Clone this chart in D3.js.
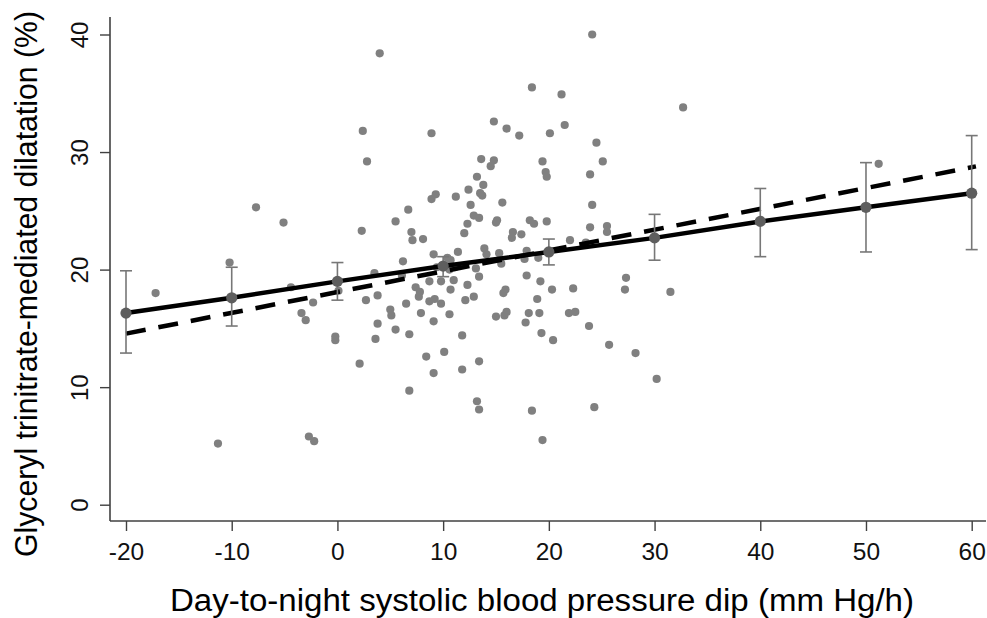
<!DOCTYPE html>
<html>
<head>
<meta charset="utf-8">
<script src="https://cdn.jsdelivr.net/npm/d3@7"></script>
<style>
  body { margin:0; background:#fff; }
  svg text { font-family: "Liberation Sans", Arial, sans-serif; }
</style>
</head>
<body>
<div id="chart"></div>
<script>
// scatter: day-to-night SBP dip (x) vs GTN-mediated dilatation (y)
var dipX = [-17.2,-11.3,-10.2,-7.7,-5.1,-4.4,-3.4,-3.0,-2.3,-2.7,-2.2,
  -0.2,-0.2,0.1,2.1,2.3,2.4,2.8,2.7,3.5,3.8,3.8,3.6,4.0,5.0,5.1,5.5,5.5,6.2,6.1,
  6.5,6.7,6.8,6.8,7.0,7.1,7.4,7.8,7.7,7.9,8.1,8.4,8.7,8.7,8.9,8.9,9.1,9.1,9.1,9.2,
  9.3,9.4,9.8,9.8,10.1,10.4,10.7,10.6,10.6,10.7,11.0,11.1,11.2,11.4,11.8,11.8,12.0,12.1,12.3,12.3,
  12.4,12.6,12.9,13.4,12.9,13.1,13.2,13.2,13.4,13.4,13.4,13.6,13.5,13.7,13.8,13.9,14.1,14.5,14.8,14.8,
  15.0,15.0,15.1,15.3,15.5,15.6,15.8,16.0,15.9,15.7,16.0,16.5,16.6,17.2,17.4,17.7,17.9,17.9,17.8,18.1,
  18.2,18.6,18.4,18.4,18.9,19.0,19.1,19.2,19.3,19.4,19.4,19.7,19.8,19.8,20.1,20.3,20.4,21.2,21.5,21.9,
  22.5,22.0,22.3,23.5,23.8,23.9,23.9,24.1,24.1,24.3,24.5,25.1,25.5,25.5,25.7,27.3,27.2,28.2,30.2,31.5,
  32.7,51.2]
var gtnY = [18.0,5.2,20.6,25.3,24.0,18.5,16.3,15.7,17.2,5.8,5.4,
  14.3,14.0,18.2,12.0,23.3,31.8,29.2,17.4,19.7,17.8,15.4,14.1,38.4,16.6,16.1,24.1,14.9,20.7,19.5,
  17.1,25.1,14.5,9.7,23.2,22.5,18.5,18.1,17.7,16.3,22.6,12.6,19.0,17.3,31.6,26.0,21.3,15.6,11.2,17.5,
  26.4,20.2,19.0,17.1,13.0,21.0,20.8,20.0,16.2,18.3,19.1,20.2,26.2,21.5,14.4,11.5,23.1,17.4,23.9,18.7,
  26.8,25.5,24.6,24.4,17.7,20.1,27.9,8.8,8.1,19.4,12.2,29.4,26.5,26.3,27.2,21.8,21.3,28.8,29.3,32.6,
  16.0,24.0,24.2,21.4,20.5,25.7,16.1,16.4,18.3,18.0,32.0,22.7,23.2,31.4,23.0,20.9,21.6,19.5,15.5,16.3,
  24.2,23.9,35.5,8.0,17.5,21.0,16.3,19.0,14.6,5.5,29.2,28.3,27.9,24.1,31.6,18.3,14.0,34.9,32.3,16.3,
  16.4,22.5,18.4,22.3,15.2,28.1,23.6,40.0,25.5,8.3,30.8,29.2,23.7,23.2,13.6,19.3,18.3,12.9,10.7,18.1,
  33.8,29.0]

// predicted means with 95% CI
var dipLevels = [-20,-10,0,10,20,30,40,50,60]
var meanY = [16.3,17.6,19.0,20.3,21.5,22.7,24.1,25.3,26.5]
var ciLow = [12.9,15.2,17.4,19.4,20.4,20.8,21.1,21.5,21.7]
var ciHigh = [19.9,20.2,20.6,21.1,22.6,24.7,26.9,29.1,31.4]

// simple linear fit (dashed)
var fitX = [-20,60.4]
var fitY = [14.55,28.78]

var xTicks = [-20,-10,0,10,20,30,40,50,60]
var yTicks = [0,10,20,30,40]

var W = 987, H = 618
var svg = d3.select('#chart').append('svg').attr('width', W).attr('height', H)

var x = d3.scaleLinear().domain([-20,60]).range([126,971.7])
var y = d3.scaleLinear().domain([0,40]).range([504.7,34.5])

var axisCol = '#404040'
var axisX = 110, axisY = 521

// axes lines
svg.append('line').attr('x1',axisX).attr('x2',axisX).attr('y1',17).attr('y2',axisY)
  .attr('stroke',axisCol).attr('stroke-width',1.6)
svg.append('line').attr('x1',axisX).attr('x2',986).attr('y1',axisY).attr('y2',axisY)
  .attr('stroke',axisCol).attr('stroke-width',1.6)

var gx = svg.append('g').attr('transform','translate(0,'+axisY+')')
  .call(d3.axisBottom(x).tickValues(xTicks).tickSize(10).tickFormat(d3.format('d')))
gx.select('.domain').remove()
gx.selectAll('.tick line').attr('stroke',axisCol).attr('stroke-width',1.4)
gx.selectAll('.tick text').attr('y',39).attr('dy',0).attr('fill','#111')
  .style('font-size','24.5px').text(d=> d<0 ? '-'+Math.abs(d) : d)

var gy = svg.append('g').attr('transform','translate('+axisX+',0)')
  .call(d3.axisLeft(y).tickValues(yTicks).tickSize(10))
gy.select('.domain').remove()
gy.selectAll('.tick line').attr('stroke',axisCol).attr('stroke-width',1.4)
gy.selectAll('.tick text').attr('x',0).attr('dy',0).attr('fill','#111')
  .attr('text-anchor','middle').attr('transform','translate(-22,0) rotate(-90)')
  .style('font-size','24px')

// scatter
var pts = dipX.map((d,i)=> ({x:d, y:gtnY[i]}))
svg.append('g').selectAll('circle').data(pts).enter().append('circle')
  .attr('cx', d=> x(d.x)).attr('cy', d=> y(d.y)).attr('r',4.1)
  .attr('fill','#808080')

// dashed linear fit
svg.append('path')
  .datum(fitX.map((d,i)=> [d, fitY[i]]))
  .attr('d', d3.line().x(d=> x(d[0])).y(d=> y(d[1])))
  .attr('fill','none').attr('stroke','#000').attr('stroke-width',4.5)
  .attr('stroke-dasharray','20,13')

// solid line through predicted means
var means = dipLevels.map((d,i)=> ({x:d, m:meanY[i], lo:ciLow[i], hi:ciHigh[i]}))
svg.append('path')
  .datum(means)
  .attr('d', d3.line().x(d=> x(d.x)).y(d=> y(d.m)))
  .attr('fill','none').attr('stroke','#000').attr('stroke-width',4.5)

// error bars
var eb = svg.append('g').attr('stroke','#777').attr('stroke-width',1.6)
eb.selectAll('.v').data(means).enter().append('line')
  .attr('x1', d=> x(d.x)).attr('x2', d=> x(d.x))
  .attr('y1', d=> y(d.lo)).attr('y2', d=> y(d.hi))
eb.selectAll('.t').data(means).enter().append('line')
  .attr('x1', d=> x(d.x)-6).attr('x2', d=> x(d.x)+6)
  .attr('y1', d=> y(d.hi)).attr('y2', d=> y(d.hi))
eb.selectAll('.b').data(means).enter().append('line')
  .attr('x1', d=> x(d.x)-6).attr('x2', d=> x(d.x)+6)
  .attr('y1', d=> y(d.lo)).attr('y2', d=> y(d.lo))

svg.append('g').selectAll('circle').data(means).enter().append('circle')
  .attr('cx', d=> x(d.x)).attr('cy', d=> y(d.m)).attr('r',5.6)
  .attr('fill','#5e5e5e')

// titles
svg.append('text').attr('x',542).attr('y',611).attr('text-anchor','middle')
  .style('font-size','31px').attr('fill','#000')
  .attr('textLength',744).attr('lengthAdjust','spacingAndGlyphs')
  .text('Day-to-night systolic blood pressure dip (mm Hg/h)')
svg.append('text').attr('transform','translate(37,284) rotate(-90)').attr('text-anchor','middle')
  .style('font-size','30.5px').attr('fill','#000')
  .attr('textLength',546).attr('lengthAdjust','spacingAndGlyphs')
  .text('Glyceryl trinitrate-mediated dilatation (%)')
</script>
</body>
</html>
